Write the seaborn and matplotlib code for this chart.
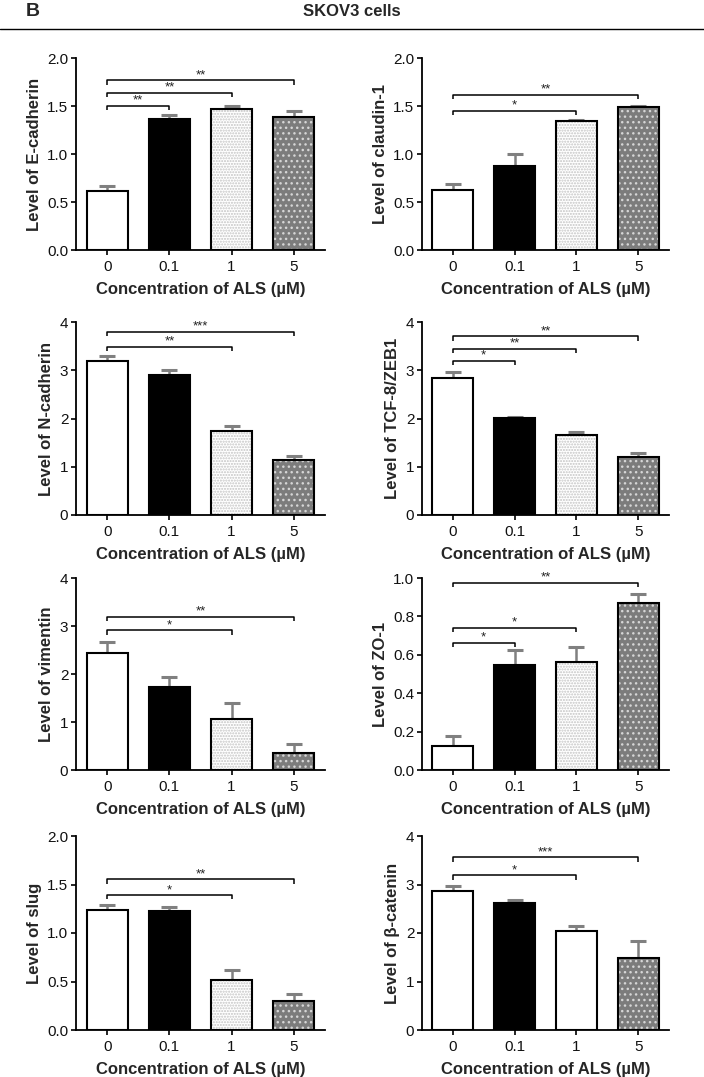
import matplotlib
matplotlib.use("Agg")
import matplotlib.pyplot as plt
import seaborn as sns
import pandas as pd
import numpy as np

sns.set_theme(style="ticks")
plt.rcParams['font.family'] = ['Liberation Sans', 'DejaVu Sans']

conc = ["0", "0.1", "1", "5"]

ecad_mean = [0.61, 1.36, 1.47, 1.39]
ecad_err = [0.06, 0.045, 0.03, 0.06]
claudin_mean = [0.63, 0.88, 1.34, 1.49]
claudin_err = [0.055, 0.12, 0.015, 0.012]
ncad_mean = [3.19, 2.90, 1.75, 1.15]
ncad_err = [0.10, 0.10, 0.09, 0.07]
zeb_mean = [2.83, 2.01, 1.65, 1.20]
zeb_err = [0.14, 0.02, 0.07, 0.09]
vim_mean = [2.44, 1.72, 1.06, 0.35]
vim_err = [0.22, 0.21, 0.33, 0.19]
zo_mean = [0.127, 0.546, 0.565, 0.872]
zo_err = [0.051, 0.078, 0.076, 0.047]
slug_mean = [1.24, 1.23, 0.52, 0.30]
slug_err = [0.05, 0.04, 0.095, 0.075]
bcat_mean = [2.86, 2.61, 2.05, 1.49]
bcat_err = [0.10, 0.08, 0.095, 0.34]

ylabels = ["Level of E-cadherin", "Level of claudin-1", "Level of N-cadherin",
           "Level of TCF-8/ZEB1", "Level of vimentin", "Level of ZO-1",
           "Level of slug", "Level of β-catenin"]
ymax = [2.0, 2.0, 4, 4, 4, 1.0, 2.0, 4]
ystep = [0.5, 0.5, 1, 1, 1, 0.2, 0.5, 1]
ydec = [1, 1, 0, 0, 0, 1, 1, 0]
means = [ecad_mean, claudin_mean, ncad_mean, zeb_mean, vim_mean, zo_mean, slug_mean, bcat_mean]
errs = [ecad_err, claudin_err, ncad_err, zeb_err, vim_err, zo_err, slug_err, bcat_err]

# brackets: (end category index, height, label)
brackets = [
    [(1, 1.50, "**"), (2, 1.635, "**"), (3, 1.767, "**")],
    [(2, 1.45, "*"), (3, 1.617, "**")],
    [(2, 3.48, "**"), (3, 3.79, "***")],
    [(1, 3.20, "*"), (2, 3.45, "**"), (3, 3.70, "**")],
    [(2, 2.91, "*"), (3, 3.19, "**")],
    [(1, 0.664, "*"), (2, 0.74, "*"), (3, 0.974, "**")],
    [(2, 1.39, "*"), (3, 1.552, "**")],
    [(2, 3.186, "*"), (3, 3.56, "***")],
]

fig = plt.figure(figsize=(7.04, 10.77), dpi=100)
W, H = 704.0, 1077.0
cols = [(76, 325), (422, 669)]
rows = [(58, 250), (322, 515), (578, 770), (836, 1030)]

for i in range(8):
    r, c = divmod(i, 2)
    x0, x1 = cols[c]
    t, b = rows[r]
    ax = fig.add_axes([x0 / W, 1 - b / H, (x1 - x0) / W, (b - t) / H])
    df = pd.DataFrame({"conc": conc, "value": means[i]})
    sns.barplot(data=df, x="conc", y="value", ax=ax, width=0.66,
                color="white", errorbar=None, linewidth=0, saturation=1, zorder=2)
    pats = list(ax.patches)
    styles = [("white", None, "white"), ("black", None, "black"),
              ("white", "......", "#c4c4c4"), ("#7c7c7c", "...", "#d6d6d6")]
    if i == 7:
        styles[2] = ("white", None, "white")
    for p, (fc, h, hc) in zip(pats, styles):
        p.set_facecolor(fc)
        p.set_edgecolor(hc)
        p.set_hatch(h)
        p.set_linewidth(0)
        p.set_zorder(2)
    sns.barplot(data=df, x="conc", y="value", ax=ax, width=0.66,
                fill=False, errorbar=None, linewidth=1.5, edgecolor="black", zorder=3)
    for p in ax.patches[len(pats):]:
        p.set_zorder(3)
    xs = np.arange(len(conc))
    ax.errorbar(xs, means[i], yerr=errs[i], fmt="none",
                ecolor="#808080", elinewidth=1.8, capsize=5.5, capthick=2.2, zorder=1)
    ax.set_xlim(-0.5, 3.5)
    ax.set_ylim(0, ymax[i])
    ticks = np.arange(0, ymax[i] + 1e-9, ystep[i])
    ax.set_yticks(ticks)
    ax.set_yticklabels([f"{v:.{ydec[i]}f}" for v in ticks])
    for side in ["top", "right"]:
        ax.spines[side].set_visible(False)
    for side in ["left", "bottom"]:
        ax.spines[side].set_linewidth(1.3)
        ax.spines[side].set_color("black")
    ax.tick_params(axis="both", length=3.5, width=1.2, color="black",
                   labelsize=11, pad=2, labelcolor="#111111")
    ax.tick_params(axis="x", pad=3.5)
    ax.set_ylabel(ylabels[i], fontsize=12, fontweight="bold", labelpad=4)
    ax.set_xlabel("Concentration of ALS (µM)", fontsize=12, fontweight="bold", labelpad=6)
    tick_h = 0.022 * ymax[i]
    for (j, hgt, lab) in brackets[i]:
        ax.plot([0, 0, j, j], [hgt - tick_h, hgt, hgt, hgt - tick_h],
                color="black", lw=1.1, solid_capstyle="butt", clip_on=False, zorder=4)
        ax.text(j / 2, hgt - 0.004 * ymax[i], lab, ha="center", va="bottom",
                fontsize=9.5, color="#222222")

fig.text(26 / W, 1 - 12 / H, "B", fontsize=14, fontweight="bold", ha="left", va="center")
fig.text(352 / W, 1 - 12 / H, "SKOV3 cells", fontsize=12, fontweight="bold", ha="center", va="center")
fig.add_artist(plt.Line2D([0, 1], [1 - 29 / H, 1 - 29 / H], color="black", lw=1.0,
                          transform=fig.transFigure))

fig.savefig("out.png", dpi=100, facecolor="white")
